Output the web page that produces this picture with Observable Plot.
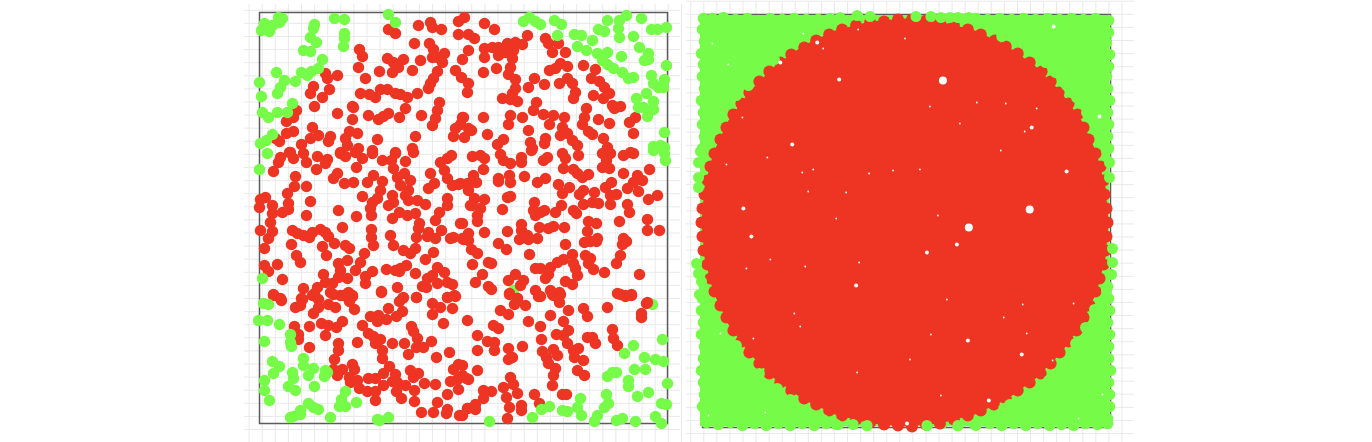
<!DOCTYPE html>
<html>
<head>
<meta charset="utf-8">
<script src="https://cdn.jsdelivr.net/npm/d3@7"></script>
<script src="https://cdn.jsdelivr.net/npm/@observablehq/plot@0.6"></script>
<style>
html,body{margin:0;padding:0;background:#fff;overflow:hidden}
#chart{display:flex;padding-left:244px;width:1128px;height:442px}
#chart svg{display:block;flex:none;background:transparent;max-width:none}
</style>
</head>
<body>
<div id="chart"></div>
<script>
const RED = "#ee3524";
const GREEN = "#77fb49";

// Left panel: about 800 samples
const leftGreenBehind = [[393,292],[254,278]];
const leftGreen = [
[5,11],[2,18],[10,19],[13,13],[20,10],[19,5],[23,6],[55,12],[54,16],[51,25],[57,30],[44,38],[51,39],[63,47],[59,56],[52,59],[48,63],[42,60],
[75,6],[85,7],[85,21],[84,34],[85,26],[129,2],[136,10],[17,60],[0,70],[2,84],[25,68],[36,69],[21,75],[18,81],[33,91],[3,100],[9,105],[18,100],[28,100],[13,122],[7,128],[1,131],[8,141],[0,157],
[264,9],[270,5],[276,9],[281,12],[295,8],[302,12],[298,23],[315,22],[322,23],[318,34],[327,38],[333,28],[339,17],[345,19],[348,8],[360,8],[367,3],[359,16],[360,25],[382,6],[374,24],[392,17],[398,17],[407,15],[380,35],[338,41],[348,40],[362,44],[343,48],[348,52],[354,56],[363,60],[369,66],[374,65],[389,41],[389,47],[385,48],[407,53],[392,63],[405,67],[394,71],[399,75],[404,75],[387,81],[377,86],[394,89],[394,97],[384,95],[379,95],[388,104],[405,120],[394,134],[401,133],[405,135],[405,141],[406,148],[394,138],
[4,291],[9,292],[-1,308],[8,308],[20,312],[31,322],[5,329],[31,330],[32,334],[13,349],[20,354],[14,361],[5,368],[5,378],[10,388],[44,346],[44,353],[49,363],[54,356],[33,360],[34,366],[29,374],[36,378],[55,374],[66,358],[68,360],[65,364],[86,379],[82,387],[80,394],[86,394],[97,390],[49,391],[54,395],[59,397],[41,398],[41,402],[31,405],[34,404],[71,405],[118,407],[120,408],[129,405],[3,266],
[403,327],[374,333],[365,341],[385,345],[396,347],[404,349],[375,357],[386,357],[357,360],[353,360],[348,364],[369,368],[369,374],[408,371],[389,380],[378,384],[347,382],[349,391],[345,395],[321,386],[318,395],[322,403],[303,398],[308,399],[290,394],[282,397],[273,405],[230,409],[338,403],[335,409],[357,408],[363,406],[376,409],[396,404],[402,411],[402,391],[407,392]
];
const leftRed = [
[129,17],[136,21],[159,13],[171,10],[173,15],[182,17],[199,9],[205,5],[199,22],[209,22],[155,31],[170,31],[174,37],[185,41],[173,45],[178,45],[183,50],[209,38],[203,47],[161,48],[100,37],[103,44],[128,46],[144,47],[134,50],[139,55],[133,60],[99,55],[120,59],[153,58],[106,66],[178,59],[174,66],[171,71],[169,76],[196,58],[202,65],[209,71],[208,80],[158,81],[66,61],[68,66],[78,63],[54,74],[51,81],[70,77],[63,85],[55,94],[101,81],[110,82],[116,85],[121,77],[128,77],[136,81],[141,82],[148,85],[146,96],[180,90],[178,98],[176,106],[173,113],[162,103],[140,105],[129,101],[124,104],[119,107],[109,103],[93,94],[94,95],[78,101],[93,107],[37,98],[34,105],[27,109],[34,119],[27,121],[20,129],[16,126],[53,115],[59,123],[51,126],[42,132],[71,124],[69,129],[90,119],[98,121],[86,126],[88,133],[118,127],[156,124],[194,124],[196,116],[203,105],[201,112],[205,125],[209,116],[30,140],[113,138],[136,140],[153,136],[81,140],[99,136],
[225,11],[235,17],[215,26],[225,36],[233,35],[239,35],[248,31],[256,30],[263,32],[268,23],[239,43],[246,40],[254,38],[253,46],[251,55],[225,45],[237,56],[224,60],[249,62],[256,67],[256,76],[253,81],[243,86],[251,87],[258,89],[286,26],[289,31],[299,31],[293,40],[306,40],[301,51],[308,54],[296,56],[290,58],[324,53],[336,57],[275,66],[269,75],[285,72],[300,71],[308,66],[313,71],[316,80],[314,86],[332,66],[340,69],[345,75],[350,81],[344,86],[334,83],[353,93],[361,94],[355,96],[376,105],[370,110],[374,121],[277,90],[274,98],[284,102],[294,103],[290,112],[305,105],[303,115],[327,96],[325,105],[323,112],[339,107],[350,111],[329,119],[333,122],[344,126],[251,103],[249,112],[263,105],[224,105],[204,105],[212,118],[228,122],[244,127],[238,132],[269,118],[271,130],[286,126],[285,131],[301,123],[308,121],[313,128],[318,133],[348,135],[371,140],[273,136],
[21,145],[19,150],[31,140],[34,146],[44,141],[47,150],[58,144],[68,147],[66,151],[57,157],[14,159],[36,164],[35,174],[47,174],[28,181],[51,189],[29,191],[29,197],[23,200],[47,203],[6,185],[1,187],[0,195],[13,193],[13,201],[11,210],[1,218],[13,219],[9,226],[5,236],[33,218],[38,221],[44,223],[50,225],[53,220],[61,217],[66,220],[69,224],[75,231],[32,232],[63,234],[37,243],[41,250],[67,243],[86,233],[90,236],[88,248],[79,251],[81,258],[79,265],[88,266],[96,258],[105,241],[101,250],[5,253],[9,259],[18,252],[23,267],[64,262],[66,270],[73,271],[44,276],[58,275],[55,281],[71,280],[81,283],[89,280],[93,283],[14,282],[21,286],[42,286],[106,264],[106,271],[113,259],[122,279],[138,275],[144,285],[157,285],[163,274],[167,275],[156,261],[127,257],[136,258],[141,256],[147,253],[140,259],[166,247],[174,240],[178,255],[173,263],[168,266],[185,260],[178,271],[188,270],[193,272],[188,285],[195,283],
[74,166],[78,161],[85,171],[94,170],[97,155],[79,198],[97,204],[83,215],[103,184],[108,170],[114,163],[123,169],[121,178],[118,186],[113,190],[111,196],[112,203],[112,217],[112,225],[114,233],[131,223],[134,233],[144,238],[151,241],[156,236],[133,183],[134,190],[129,193],[133,206],[140,200],[148,203],[156,201],[160,211],[159,216],[157,225],[169,220],[168,224],[176,226],[182,218],[176,208],[180,200],[188,186],[188,193],[191,226],[201,211],[194,225],[203,226],[209,228],[123,148],[132,148],[146,149],[136,141],[154,140],[113,141],[103,146],[96,140],[81,141],[86,144],[134,156],[138,165],[145,161],[151,168],[141,173],[149,178],[146,183],[149,188],[158,188],[166,192],[169,176],[175,171],[171,161],[181,150],[188,146],[192,143],[185,158],[188,166],[193,173],[199,172],[209,173],[211,193],
[213,144],[221,143],[225,146],[241,142],[244,148],[251,151],[262,145],[262,150],[272,138],[224,157],[214,163],[208,171],[217,170],[209,178],[201,171],[239,166],[239,169],[250,163],[251,170],[265,164],[278,170],[286,166],[288,145],[284,148],[303,141],[306,146],[319,143],[304,156],[314,157],[318,161],[323,165],[329,162],[343,141],[351,141],[347,148],[343,155],[350,156],[364,143],[374,141],[364,161],[390,157],[378,163],[383,168],[374,170],[368,176],[379,179],[352,170],[346,175],[335,180],[357,182],[351,183],[351,192],[339,191],[333,190],[324,192],[324,178],[320,182],[299,172],[310,175],[303,181],[368,192],[370,200],[389,187],[398,183],[388,207],[388,218],[400,218],[360,209],[251,184],[248,185],[225,187],[215,186],[213,193],[221,196],[243,197],[218,203],[218,209],[203,211],[209,221],[204,227],[225,220],[248,219],[275,190],[274,198],[285,198],[276,203],[281,200],[296,200],[302,193],[314,198],[317,201],[329,209],[337,211],[328,219],[262,212],[262,218],[268,223],[260,227],[269,227],[278,226],[280,215],[289,216],[294,214],[305,215],[325,230],[331,229],[338,226],[337,229],[306,232],[364,226],[367,229],[363,232],[239,231],[247,237],[212,237],[218,241],[270,242],[213,252],[229,250],[232,251],[223,262],[216,270],[229,274],[232,277],[276,256],[281,256],[291,255],[298,250],[304,247],[313,242],[314,251],[316,256],[318,263],[289,262],[286,266],[306,269],[313,272],[326,243],[331,246],[329,251],[334,257],[345,260],[361,243],[357,251],[380,262],[256,262],[249,268],[264,268],[261,273],[250,281],[258,286],[276,278],[281,284],[291,278],[300,280],[294,283],[358,281],[366,283],[372,282],[388,290],
[14,283],[22,288],[36,295],[41,293],[43,287],[53,283],[59,287],[59,295],[54,301],[69,292],[76,295],[74,282],[84,283],[93,284],[90,289],[95,297],[122,280],[129,296],[143,286],[140,289],[157,285],[143,299],[137,304],[111,304],[119,303],[118,309],[127,307],[103,313],[35,314],[50,314],[39,322],[39,327],[50,335],[66,323],[62,311],[69,313],[77,315],[83,309],[109,321],[114,324],[121,327],[116,331],[98,330],[133,331],[145,331],[152,314],[154,319],[158,326],[157,335],[149,342],[164,335],[172,329],[177,345],[190,340],[184,311],[208,308],[173,291],[181,295],[173,302],[193,296],[188,285],[196,284],[79,331],[79,338],[123,338],[123,346],[75,347],[83,357],[74,357],[78,363],[93,352],[95,357],[90,365],[91,370],[98,368],[100,376],[108,379],[116,379],[116,388],[109,366],[116,366],[124,373],[124,361],[130,354],[136,362],[133,369],[138,370],[146,373],[155,378],[137,379],[142,386],[155,389],[151,358],[159,361],[154,365],[165,371],[176,372],[162,400],[188,382],[178,390],[174,400],[188,397],[187,401],[200,403],[208,396],[199,377],[191,369],[199,352],[194,357],[203,363],[198,367],[209,367],
[250,282],[258,286],[255,292],[266,293],[279,284],[241,298],[249,302],[269,309],[281,314],[234,313],[239,316],[218,323],[228,329],[235,330],[218,338],[235,338],[263,334],[249,336],[253,345],[249,347],[282,327],[283,339],[287,345],[289,351],[296,356],[294,363],[293,373],[294,337],[298,343],[297,322],[304,309],[309,318],[304,323],[308,331],[291,303],[300,290],[309,298],[293,282],[301,282],[324,296],[328,304],[348,295],[328,325],[333,325],[336,331],[353,317],[354,326],[358,333],[319,336],[314,338],[315,345],[324,348],[318,358],[325,363],[218,358],[203,353],[207,366],[251,365],[254,372],[244,375],[258,381],[247,385],[224,378],[232,379],[224,386],[216,392],[208,396],[216,397],[203,403],[250,395],[248,406],[262,393],[262,398],[275,382],[280,391],[303,382],[307,382],[387,291],[382,301],[382,305],[361,282],[366,284],[372,283]
];

// Right panel: the samples merge into solid regions; outline and edge samples
const rightRedOutline = [[407,208],[404,173],[395,138],[380,106],[359,77],[334,52],[305,31],[273,16],[238,7],[203,4],[168,7],[133,16],[101,31],[72,52],[47,77],[26,106],[11,138],[2,173],[-1,208],[2,243],[11,278],[26,310],[47,339],[72,364],[101,385],[133,400],[168,409],[203,412],[238,409],[273,400],[305,385],[334,364],[359,339],[380,310],[395,278],[404,243],[407,208]];
const rightRedEdge = [
[406,208],[405,194],[403,180],[402,166],[399,152],[394,139],[387,125],[382,113],[376,100],[367,89],[357,78],[349,67],[340,57],[328,48],[316,39],[304,32],[293,26],[279,20],[266,15],[252,11],[238,8],[224,6],[210,5],
[196,5],[182,7],[168,8],[154,11],[140,15],[127,20],[114,26],[102,33],[89,40],[78,48],[67,57],[57,67],[47,78],[39,89],[31,100],[24,113],[18,125],[12,139],[8,152],[5,166],[2,180],[0,194],[-1,208],
[0,222],[1,236],[5,250],[8,264],[12,277],[18,291],[24,303],[31,316],[39,327],[47,338],[57,349],[67,359],[78,368],[89,376],[102,384],[114,390],[127,396],[140,401],[154,405],[168,408],[182,410],[196,411],
[210,412],[224,410],[238,409],[252,405],[266,401],[279,396],[292,390],[304,384],[316,376],[328,368],[339,359],[349,349],[358,338],[367,327],[375,316],[382,303],[388,291],[394,277],[398,264],[402,250],[404,236],[405,222]
];
const rightGreenFrame = [
[1,4],[0,15],[2,27],[-1,39],[1,50],[0,62],[2,74],[-1,86],[1,98],[0,110],[2,122],[0,134],[1,146],
[2,272],[0,284],[-1,296],[1,308],[-1,320],[2,332],[1,344],[-1,356],[1,368],[2,380],[0,392],[3,404],
[407,6],[407,18],[405,28],[408,40],[407,52],[405,62],[406,74],[408,86],[406,98],[407,110],[406,122],[407,134],[405,146],
[406,272],[407,284],[408,296],[406,308],[408,320],[407,332],[407,344],[409,356],[407,368],[408,380],[408,392],[406,404],
[10,4],[21,3],[33,5],[45,4],[56,6],[68,4],[80,5],[92,4],[104,5],[116,5],[128,4],[140,6],[156,3],[169,4],
[250,4],[262,5],[274,4],[286,5],[298,4],[310,5],[322,4],[334,5],[346,4],[358,5],[370,4],[382,5],[394,4],
[4,408],[16,410],[28,408],[40,411],[52,409],[64,411],[76,409],[88,411],[100,409],[112,411],[124,409],[136,410],[152,408],[165,411],
[225,411],[240,409],[256,411],[273,410],[288,409],[300,411],[312,409],[324,411],[336,409],[348,411],[360,410],[372,411],[384,409],[396,410],[406,409]
];
const rightGreenOver = [
[6,124],[34,81],[46,71],[54,54],[72,45],[119,11],[138,3],[155,1],[168,2],[214,2],[229,2],[239,3],[248,3],[256,3],[267,3],[280,6],[290,11],[300,22],[318,25],[333,36],[344,48],[354,58],[365,71],[375,83],[385,98],[396,114],[403,127],
[405,136],[408,148],[408,163],[411,234],[411,248],[410,260],[405,276],[403,285],[393,295],[384,313],[374,329],[364,348],[347,366],[326,382],[308,390],[302,394],[290,404],[274,411],[256,411],[225,411],[165,411],[151,410],[134,410],[121,405],[101,397],[88,385],[75,374],[57,359],[34,331],[16,314],[7,300],
[-2,137],[-4,148],[-4,163],[-4,173],[-6,249],[-4,259],[-1,267],[-3,280]
];
const holesBig = [[241,66],[328,195],[267,213]];
const holesMid = [[115,28],[90,130],[137,65],[330,113],[365,157],[352,12],[41,194],[225,238],[255,230],[49,222],[154,271],[266,326],[287,386],[205,409],[320,340],[398,102],[78,48]];
const holesSmall = [[121,34],[101,19],[26,50],[40,103],[10,29],[156,15],[323,117],[335,94],[304,89],[228,92],[203,24],[275,88],[258,109],[24,150],[65,143],[111,155],[100,158],[167,159],[191,156],[106,177],[144,178],[134,204],[68,245],[103,252],[157,248],[44,254],[92,299],[98,312],[51,324],[18,319],[245,285],[229,320],[239,381],[155,358],[208,345],[63,398],[6,401],[372,289],[321,290],[302,303],[325,319],[351,346],[377,404],[401,380],[218,155],[299,136],[236,201]];

const gridColor = "#e9e9e9";
const frameColor = "#5c5c5c";
const px = d => d[0], py = d => d[1];
const dots = (data, fill, r) => Plot.dot(data, {x: px, y: py, r, fill, stroke: "none"});

function panel(opts, marks) {
  return Plot.plot({
    ...opts,
    height: 442,
    style: {background: "transparent"},
    x: {domain: opts.xDomain, axis: null},
    y: {domain: opts.yDomain, axis: null, reverse: true},
    marks
  });
}

const gridLeftX = d3.range(-10.4, 425, 13.1);
const gridLeftY = d3.range(-2.2, 431, 13.1);
const left = panel({
  width: 440, marginLeft: 15, marginRight: 17, marginTop: 12, marginBottom: 19,
  xDomain: [0, 408], yDomain: [0, 411]
}, [
  Plot.ruleX(gridLeftX, {y1: -8, y2: 430, stroke: gridColor, strokeWidth: 1}),
  Plot.ruleY(gridLeftY, {x1: -15, x2: 421, stroke: gridColor, strokeWidth: 1}),
  Plot.frame({stroke: frameColor, strokeWidth: 1.5}),
  dots(leftGreenBehind, GREEN, 5.7),
  dots(leftRed, RED, 5.7),
  dots(leftGreen, GREEN, 5.7)
]);

const gridRightX = d3.range(-11.8, 425, 13.1);
const gridRightY = d3.range(-13.3, 430, 13.1);
const right = panel({
  width: 456, marginLeft: 18, marginRight: 30, marginTop: 14, marginBottom: 15,
  xDomain: [0, 409], yDomain: [0, 413]
}, [
  Plot.ruleX(gridRightX, {y1: -12, y2: 428, stroke: gridColor, strokeWidth: 1}),
  Plot.ruleY(gridRightY, {x1: -16, x2: 433, stroke: gridColor, strokeWidth: 1}),
  Plot.frame({stroke: frameColor, strokeWidth: 1.5}),
  Plot.rect([[-2, 1, 408, 412]], {x1: d => d[0], y1: d => d[1], x2: d => d[2], y2: d => d[3], fill: GREEN}),
  dots(rightGreenFrame, GREEN, 5.8),
  Plot.line(rightRedOutline, {x: px, y: py, fill: RED, stroke: "none"}),
  dots(rightRedEdge, RED, 6),
  dots(rightGreenOver, GREEN, 5.5),
  dots(holesBig, "#fff", 4),
  dots(holesMid, "#fff", 2),
  dots(holesSmall, "#fff", 0.9)
]);

document.getElementById("chart").append(left, right);
</script>
</body>
</html>
